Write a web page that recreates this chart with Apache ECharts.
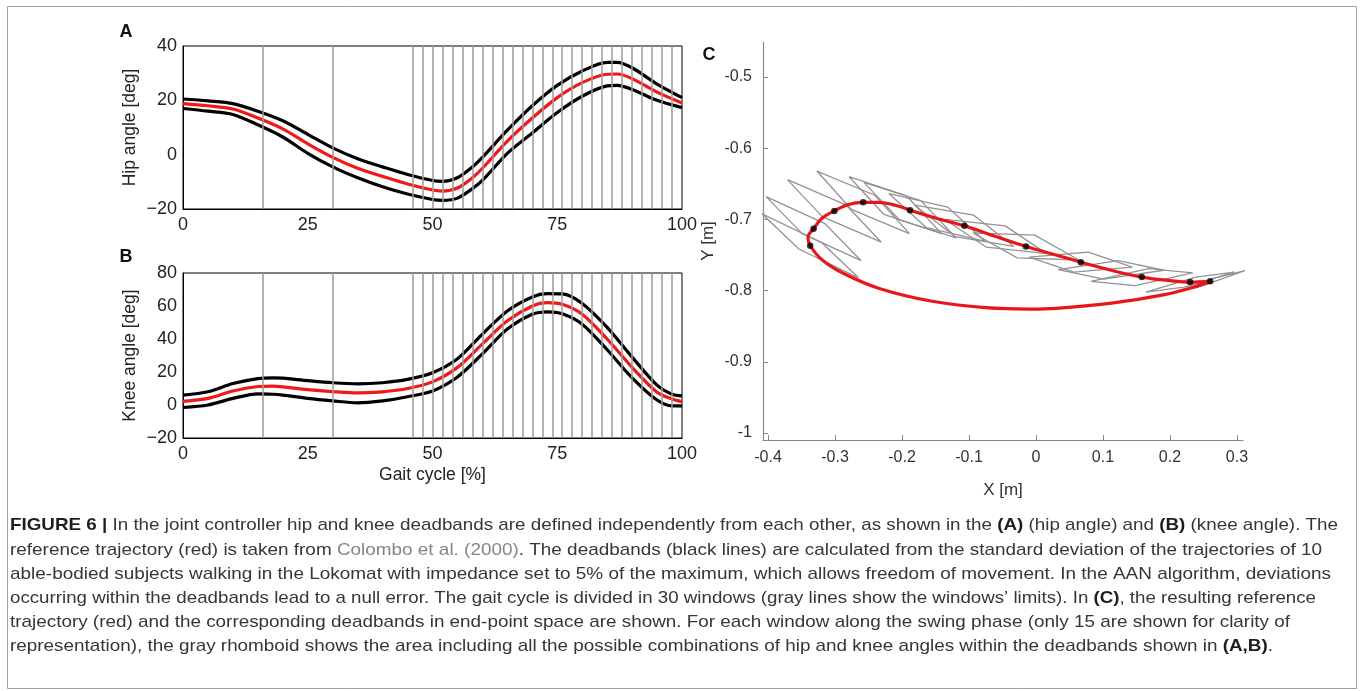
<!DOCTYPE html>
<html>
<head>
<meta charset="utf-8">
<script src="https://cdn.jsdelivr.net/npm/echarts@6/dist/echarts.min.js"></script>
<style>
html,body{margin:0;padding:0;background:#fff;}
#chart{width:1360px;height:691px;}
</style>
</head>
<body>
<div id="chart"></div>
<script>
// ---------- Panel A : hip angle ----------
const hipGait  = [0,5,10,15,20,25,30,35,40,45,50,52,55,58,60,65,70,75,80,85,87,90,95,100];
const hipRef   = [18.8,18.0,16.8,13.5,9.5,4.0,-1.0,-5.0,-8.0,-10.8,-13.0,-13.4,-12.3,-8.5,-5.0,5.0,13.5,21.0,26.5,29.6,29.7,28.0,23.0,19.0];
const hipUpper = [20.5,19.8,18.8,16.0,12.5,7.5,2.5,-1.5,-4.5,-7.3,-9.5,-9.8,-8.5,-4.5,-1.0,9.0,18.0,25.5,30.8,34.0,34.0,32.0,26.0,21.0];
const hipLower = [17.0,16.0,14.8,11.0,6.5,0.5,-4.5,-8.5,-11.8,-14.5,-16.5,-16.8,-16.0,-12.5,-9.5,0.5,8.0,15.5,21.5,25.3,25.5,24.0,20.0,17.3];

// ---------- Panel B : knee angle ----------
const kneeGait  = [0,5,10,15,18,20,25,30,35,40,45,50,55,60,65,70,73,76,80,85,90,95,98,100];
const kneeRef   = [2.2,4.0,8.5,11.2,11.5,11.0,9.3,8.1,7.3,8.0,10.0,14.0,22.8,37.0,51.0,60.0,62.0,61.0,55.0,40.0,22.8,7.7,3.6,2.0];
const kneeUpper = [6.0,8.0,13.0,16.0,16.5,16.3,14.8,13.5,12.8,13.5,15.5,19.5,28.0,43.0,57.0,65.5,67.5,67.3,61.5,47.0,29.0,12.0,6.5,5.5];
const kneeLower = [-1.5,0.0,4.0,6.8,6.5,6.0,4.0,2.5,1.3,2.5,5.0,8.5,17.0,31.0,46.0,55.0,56.5,55.3,49.0,33.5,16.5,3.0,-0.5,-0.5];

// window limits (gray vertical lines), % of gait cycle
const windowLimits = [16,30,46,48,50,52,54,56,58,60,62,64,66,68,70,72,74,76,78,80,82,84,86,88,90,92,94,96,98];

// ---------- Panel C : end-point space ----------
const loopX = [0.262,0.24,0.19,0.11,0.03,-0.01,-0.075,-0.155,-0.234,-0.287,-0.319,-0.337,-0.3404,-0.332,-0.319,-0.301,-0.28,-0.258,-0.235,-0.21,-0.188,-0.15,-0.107,-0.06,-0.015,0.03,0.067,0.115,0.158,0.20,0.230,0.262];
const loopY = [-0.787,-0.794,-0.806,-0.818,-0.825,-0.826,-0.824,-0.815,-0.797,-0.776,-0.757,-0.737,-0.725,-0.713,-0.698,-0.688,-0.679,-0.676,-0.676,-0.680,-0.687,-0.698,-0.709,-0.724,-0.738,-0.750,-0.760,-0.772,-0.781,-0.786,-0.788,-0.787];
const dotX = [-0.337,-0.332,-0.301,-0.258,-0.188,-0.107,-0.015,0.067,0.158,0.230,0.260];
const dotY = [-0.737,-0.713,-0.688,-0.676,-0.687,-0.709,-0.738,-0.760,-0.781,-0.788,-0.787];
const rhomboids = [
  [[-0.409,-0.692],[-0.320,-0.7325],[-0.265,-0.782],[-0.354,-0.7415]],
  [[-0.403,-0.668],[-0.315,-0.706],[-0.261,-0.758],[-0.349,-0.720]],
  [[-0.371,-0.644],[-0.283,-0.680],[-0.231,-0.732],[-0.319,-0.696]],
  [[-0.327,-0.632],[-0.2405,-0.666],[-0.189,-0.720],[-0.2755,-0.686]],
  [[-0.279,-0.640],[-0.193,-0.667],[-0.141,-0.720],[-0.227,-0.693]],
  [[-0.257,-0.648],[-0.172,-0.6735],[-0.119,-0.726],[-0.204,-0.7005]],
  [[-0.2196,-0.6636],[-0.132,-0.6826],[-0.0764,-0.7304],[-0.1638,-0.7114]],
  [[-0.181,-0.680],[-0.093,-0.694],[-0.033,-0.738],[-0.121,-0.724]],
  [[-0.136,-0.700],[-0.046,-0.709],[0.016,-0.748],[-0.074,-0.739]],
  [[-0.094,-0.719],[-0.002,-0.722],[0.064,-0.757],[-0.028,-0.754]],
  [[-0.010,-0.753],[0.078,-0.746],[0.144,-0.767],[0.056,-0.774]],
  [[0.033,-0.7706],[0.123,-0.758],[0.191,-0.7714],[0.101,-0.784]],
  [[0.082,-0.787],[0.168,-0.769],[0.234,-0.775],[0.148,-0.793]],
  [[0.164,-0.802],[0.239,-0.781],[0.296,-0.774],[0.221,-0.795]],
  [[0.208,-0.802],[0.268,-0.782],[0.312,-0.772],[0.252,-0.792]]
];

// ---------- caption ----------
const captionLines = [
  [['FIGURE 6 |','b'],[' In the joint controller hip and knee deadbands are defined independently from each other, as shown in the ','n'],['(A)','b'],[' (hip angle) and ','n'],['(B)','b'],[' (knee angle). The','n']],
  [['reference trajectory (red) is taken from ','n'],['Colombo et al. (2000)','g'],['. The deadbands (black lines) are calculated from the standard deviation of the trajectories of 10','n']],
  [['able-bodied subjects walking in the Lokomat with impedance set to 5% of the maximum, which allows freedom of movement. In the AAN algorithm, deviations','n']],
  [['occurring within the deadbands lead to a null error. The gait cycle is divided in 30 windows (gray lines show the windows\u2019 limits). In ','n'],['(C)','b'],[', the resulting reference','n']],
  [['trajectory (red) and the corresponding deadbands in end-point space are shown. For each window along the swing phase (only 15 are shown for clarity of','n']],
  [['representation), the gray rhomboid shows the area including all the possible combinations of hip and knee angles within the deadbands shown in ','n'],['(A,B)','b'],['.','n']]
];
const captionRight = [1338,1322,1331,1316,1290,1273];
const captionY = [525.5,550,574.2,598.4,622.6,646.8];

// ======================================================
const FONT = '"Liberation Sans", Arial, sans-serif';
const pairs = (xs, ys) => xs.map((x, i) => [x, ys[i]]);
const minus = v => String(v).replace('-', '\u2212');

const chart = echarts.init(document.getElementById('chart'), null, {renderer: 'canvas'});

function angleAxisX(gi, showName) {
  return {
    type: 'value', gridIndex: gi, min: 0, max: 100, interval: 25,
    axisLine: {show: true, onZero: false, lineStyle: {color: '#000', width: 1}},
    axisTick: {show: false}, splitLine: {show: false},
    axisLabel: {fontSize: 18, color: '#222', margin: 7, fontFamily: FONT},
    name: showName ? 'Gait cycle [%]' : '', nameLocation: 'middle', nameGap: 28,
    nameTextStyle: {fontSize: 17.5, color: '#222', fontFamily: FONT}
  };
}
function angleAxisY(gi, min, max, name) {
  return {
    type: 'value', gridIndex: gi, min: min, max: max, interval: 20,
    axisLine: {show: true, lineStyle: {color: '#000', width: 1}},
    axisTick: {show: false}, splitLine: {show: false},
    axisLabel: {fontSize: 18, color: '#222', margin: 6, fontFamily: FONT, formatter: minus},
    name: name, nameLocation: 'middle', nameGap: 44,
    nameTextStyle: {fontSize: 17.5, color: '#222', fontFamily: FONT}
  };
}

const series = [];
// gray window lines
[0, 1].forEach(gi => {
  series.push({
    type: 'line', xAxisIndex: gi, yAxisIndex: gi, data: [], z: 1, silent: true,
    markLine: {
      silent: true, symbol: 'none', animation: false,
      label: {show: false},
      lineStyle: {color: '#9b9b9b', width: 1.5, type: 'solid'},
      emphasis: {disabled: true},
      data: windowLimits.map(v => ({xAxis: v}))
    }
  });
});
function curve(gi, xs, ys, color) {
  return {
    type: 'line', xAxisIndex: gi, yAxisIndex: gi, data: pairs(xs, ys),
    smooth: 0.3, symbol: 'none', z: color === '#000' ? 3 : 4, animation: false,
    lineStyle: {color: color, width: 3.2}
  };
}
series.push(curve(0, hipGait, hipUpper, '#000'));
series.push(curve(0, hipGait, hipLower, '#000'));
series.push(curve(0, hipGait, hipRef, '#f01818'));
series.push(curve(1, kneeGait, kneeUpper, '#000'));
series.push(curve(1, kneeGait, kneeLower, '#000'));
series.push(curve(1, kneeGait, kneeRef, '#f01818'));

// rhomboids
rhomboids.forEach(r => {
  series.push({
    type: 'line', xAxisIndex: 2, yAxisIndex: 2, data: r.concat([r[0]]),
    symbol: 'none', smooth: false, z: 2, animation: false, silent: true,
    lineStyle: {color: '#939393', width: 1.3}
  });
});
series.push({
  type: 'line', xAxisIndex: 2, yAxisIndex: 2, data: pairs(loopX, loopY),
  symbol: 'none', smooth: 0.35, z: 4, animation: false,
  lineStyle: {color: '#e8161b', width: 3.2}
});
series.push({
  type: 'scatter', xAxisIndex: 2, yAxisIndex: 2, data: pairs(dotX, dotY),
  symbolSize: 6.5, z: 5, animation: false,
  itemStyle: {color: '#000'}
});

// caption measurement
const mctx = document.createElement('canvas').getContext('2d');
const CAP_SIZE = 17;
function segFont(s) { return (s === 'b' ? 'bold ' : '') + CAP_SIZE + 'px ' + FONT; }
const richStyles = {
  n: {fontSize: CAP_SIZE, fontFamily: FONT, fill: '#363636'},
  b: {fontSize: CAP_SIZE, fontFamily: FONT, fontWeight: 'bold', fill: '#1e1e1e'},
  g: {fontSize: CAP_SIZE, fontFamily: FONT, fill: '#858585'}
};
const graphics = [];
captionLines.forEach((segs, i) => {
  let w = 0;
  segs.forEach(([t, s]) => { mctx.font = segFont(s); w += mctx.measureText(t).width; });
  const target = captionRight[i] - 10;
  graphics.push({
    type: 'text', x: 10, y: captionY[i], scaleX: target / w, silent: true,
    style: {
      text: segs.map(([t, s]) => '{' + s + '|' + t + '}').join(''),
      rich: richStyles, fontSize: CAP_SIZE, fontFamily: FONT, fill: '#363636',
      verticalAlign: 'middle', align: 'left'
    }
  });
});
// panel letters
[['A', 126, 32], ['B', 126, 257], ['C', 709, 55]].forEach(([t, x, y]) => {
  graphics.push({
    type: 'text', x: x, y: y, silent: true,
    style: {text: t, fontSize: 18, fontWeight: 'bold', fontFamily: FONT, fill: '#111', align: 'center', verticalAlign: 'middle'}
  });
});
// outer frame
graphics.push({
  type: 'rect', silent: true, z: -10,
  shape: {x: 7.5, y: 6.5, width: 1349, height: 682},
  style: {fill: 'transparent', stroke: '#a0a0a0', lineWidth: 1}
});

const option = {
  animation: false,
  backgroundColor: '#fff',
  grid: [
    {left: 183, top: 46, width: 499, height: 163, show: true, borderColor: '#000', borderWidth: 1, backgroundColor: 'transparent'},
    {left: 183, top: 273, width: 499, height: 165, show: true, borderColor: '#000', borderWidth: 1, backgroundColor: 'transparent'},
    {left: 763, top: 42, width: 480, height: 398}
  ],
  xAxis: [
    angleAxisX(0, false),
    angleAxisX(1, true),
    {
      type: 'value', gridIndex: 2, min: -0.4075, max: 0.309, splitNumber: 7,
      axisLine: {show: true, onZero: false, lineStyle: {color: '#8a8a8a', width: 1.2}},
      axisTick: {show: true, inside: true, length: 5, lineStyle: {color: '#8a8a8a'}},
      splitLine: {show: false},
      axisLabel: {fontSize: 16, color: '#333', margin: 10, fontFamily: FONT, showMinLabel: false, showMaxLabel: false},
      name: 'X [m]', nameLocation: 'middle', nameGap: 42,
      nameTextStyle: {fontSize: 17, color: '#333', fontFamily: FONT}
    }
  ],
  yAxis: [
    angleAxisY(0, -20, 40, 'Hip angle [deg]'),
    angleAxisY(1, -20, 80, 'Knee angle [deg]'),
    {
      type: 'value', gridIndex: 2, min: -1.0099, max: -0.4507, splitNumber: 6,
      axisLine: {show: true, onZero: false, lineStyle: {color: '#8a8a8a', width: 1.2}},
      axisTick: {show: true, inside: true, length: 5, lineStyle: {color: '#8a8a8a'}},
      splitLine: {show: false},
      axisLabel: {fontSize: 16, color: '#333', margin: 11, fontFamily: FONT, showMinLabel: false, showMaxLabel: false},
      name: 'Y [m]', nameLocation: 'middle', nameGap: 46,
      nameTextStyle: {fontSize: 17, color: '#333', fontFamily: FONT}
    }
  ],
  series: series,
  graphic: {elements: graphics}
};
chart.setOption(option);
</script>
</body>
</html>
